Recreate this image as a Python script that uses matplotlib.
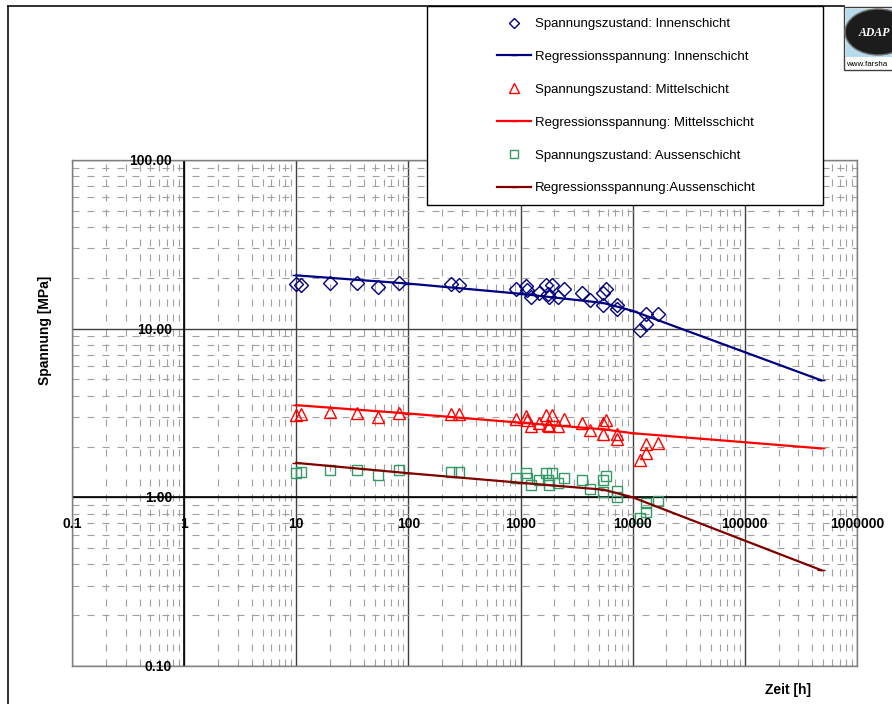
import matplotlib
matplotlib.use("Agg")
import matplotlib.pyplot as plt
from matplotlib.lines import Line2D
from matplotlib.patches import Rectangle, Ellipse
from matplotlib.ticker import LogLocator, NullFormatter

plt.rcParams['font.family'] = ['Liberation Sans', 'DejaVu Sans']

zeit = [10, 11, 20, 35, 54, 83, 240, 285, 915, 1120, 1150, 1230, 1460, 1670,
        1740, 1790, 1920, 2170, 2440, 3500, 4160, 5470, 5470, 5740, 7190,
        7300, 11600, 13100, 13100, 16950]
innen = [18.3, 18.2, 18.6, 18.6, 17.6, 18.7, 18.3, 18.2, 17.3, 17.9, 17.0,
         15.4, 16.3, 18.1, 16.1, 15.4, 18.1, 15.4, 17.1, 16.3, 14.7, 13.9,
         16.3, 17.3, 13.0, 13.9, 9.8, 10.7, 12.3, 12.2]
mittel = [3.09, 3.13, 3.20, 3.18, 2.99, 3.18, 3.13, 3.13, 2.93, 3.02, 2.89,
          2.64, 2.77, 3.06, 2.70, 2.64, 3.06, 2.64, 2.93, 2.77, 2.50, 2.39,
          2.77, 2.89, 2.23, 2.39, 1.66, 1.83, 2.08, 2.10]
aussen = [1.39, 1.41, 1.45, 1.45, 1.35, 1.45, 1.41, 1.41, 1.31, 1.39, 1.31,
          1.18, 1.26, 1.39, 1.26, 1.18, 1.39, 1.21, 1.31, 1.26, 1.12, 1.07,
          1.26, 1.33, 1.01, 1.09, 0.75, 0.82, 0.92, 0.95]

# Regression curves
reg_zeit = [10, 100, 1000, 5500, 10000, 480000]
reg_innen = [20.7, 18.5, 16.1, 14.2, 12.75, 4.94]
reg_mittel = [3.52, 3.14, 2.77, 2.53, 2.40, 1.95]
reg_aussen = [1.60, 1.39, 1.22, 1.11, 1.00, 0.37]

x_ticks = [0.1, 1, 10, 100, 1000, 10000, 100000, 1000000]
x_labels = ['0.1', '1', '10', '100', '1000', '10000', '100000', '1000000']
y_ticks = [0.1, 1, 10, 100]
y_labels = ['0.10', '1.00', '10.00', '100.00']

W, H = 892, 704
fig = plt.figure(figsize=(W / 100, H / 100), dpi=100)
ax = fig.add_axes([72 / W, 38 / H, (857 - 72) / W, (666 - 160) / H])

ax.set_xscale('log')
ax.set_yscale('log')
ax.set_xlim(0.1, 1e6)
ax.set_ylim(0.1, 100)
ax.xaxis.set_minor_locator(LogLocator(base=10, subs=range(2, 10), numticks=20))
ax.yaxis.set_minor_locator(LogLocator(base=10, subs=range(2, 10), numticks=20))
ax.xaxis.set_minor_formatter(NullFormatter())
ax.yaxis.set_minor_formatter(NullFormatter())
ax.tick_params(which='both', length=0, labelbottom=False, labelleft=False)
ax.set_axisbelow(True)
ax.grid(which='major', color='#404040', lw=1.0, ls='-')
ax.grid(which='minor', color='#a0a0a0', lw=0.8, ls=(0, (6.3, 7.2)))
for sp in ax.spines.values():
    sp.set_color('#808080')
    sp.set_linewidth(1.0)

# axes crossing at x=1 and y=1
ax.axhline(1, color='black', lw=1.2, zorder=1.5)
ax.axvline(1, color='black', lw=1.2, zorder=1.5)

for v, lab in zip(x_ticks, x_labels):
    ax.annotate(lab, (v, 1), xytext=(0, -22.3), textcoords='offset points',
                ha='center', va='baseline', fontsize=10, fontweight='bold')
for v, lab in zip(y_ticks, y_labels):
    ax.annotate(lab, (1, v), xytext=(-8.6, -3.6), textcoords='offset points',
                ha='right', va='baseline', fontsize=10, fontweight='bold')

navy = '#000080'
red = '#ff0000'
green = '#339966'
darkred = '#800000'

h1, = ax.plot(zeit, innen, 'D', ms=6.8, mfc='none', mec=navy, mew=1.0,
              ls='none', label='Spannungszustand: Innenschicht')
h2, = ax.plot(reg_zeit, reg_innen, '-', color=navy, lw=1.6, marker='_',
              ms=6, label='Regressionsspannung: Innenschicht')
h3, = ax.plot(zeit, mittel, '^', ms=9, mfc='none', mec=red, mew=1.0,
              ls='none', label='Spannungszustand: Mittelschicht')
h4, = ax.plot(reg_zeit, reg_mittel, '-', color=red, lw=1.6, marker='_',
              ms=6, label='Regressionsspannung: Mittelsschicht')
h5, = ax.plot(zeit, aussen, 's', ms=7, mfc='none', mec=green, mew=1.0,
              ls='none', label='Spannungszustand: Aussenschicht')
h6, = ax.plot(reg_zeit, reg_aussen, '-', color=darkred, lw=1.6, marker='_',
              ms=6, label='Regressionsspannung:Aussenschicht')

fig.text(45 / W, 1 - 330 / H, 'Spannung [MPa]', rotation=90, ha='center',
         va='center', fontsize=10, fontweight='bold')
fig.text(788 / W, 1 - 690 / H, 'Zeit [h]', ha='center', va='center',
         fontsize=10, fontweight='bold')

# outer chart frame
fig.add_artist(Line2D([8 / W, 8 / W], [0, 1 - 6 / H], color='#202020', lw=1.3))
fig.add_artist(Line2D([8 / W, 844 / W], [1 - 6 / H, 1 - 6 / H],
                      color='#202020', lw=1.3))

# legend box
fig.add_artist(Rectangle((427 / W, 1 - 205 / H), (823 - 427) / W, (205 - 6) / H,
                         transform=fig.transFigure, facecolor='white',
                         edgecolor='black', lw=1.0, zorder=4))
fig.legend(handles=[h1, h2, h3, h4, h5, h6], loc='upper left',
           bbox_to_anchor=(497 / W, 1 - 18 / H), frameon=False,
           borderpad=0, borderaxespad=0, fontsize=9.5, handlelength=2.6,
           handletextpad=0.25, labelspacing=1.56, numpoints=1,
           markerscale=0.75)

# small logo in the top right corner
fig.add_artist(Rectangle((844 / W, 1 - 70 / H), 50 / W, 63 / H,
                         transform=fig.transFigure, facecolor='white',
                         edgecolor='#404040', lw=1.0, zorder=4))
fig.add_artist(Rectangle((846 / W, 1 - 57 / H), 48 / W, 48 / H,
                         transform=fig.transFigure, facecolor='#b5dcec',
                         edgecolor='none', zorder=4))
fig.add_artist(Ellipse((878 / W, 1 - 32 / H), 66 / W, 46 / H,
                       transform=fig.transFigure, facecolor='#1c1c1c',
                       edgecolor='#707070', lw=1.0, zorder=4))
fig.text(874 / W, 1 - 33 / H, 'ADAP', ha='center', va='center', color='white',
         fontsize=8.5, fontweight='bold', style='italic',
         family='Liberation Serif', zorder=5)
fig.text(846 / W, 1 - 64 / H, 'www.farsha', ha='left', va='center',
         fontsize=5.8, zorder=5)

fig.savefig('out.png', dpi=100, facecolor='white')
